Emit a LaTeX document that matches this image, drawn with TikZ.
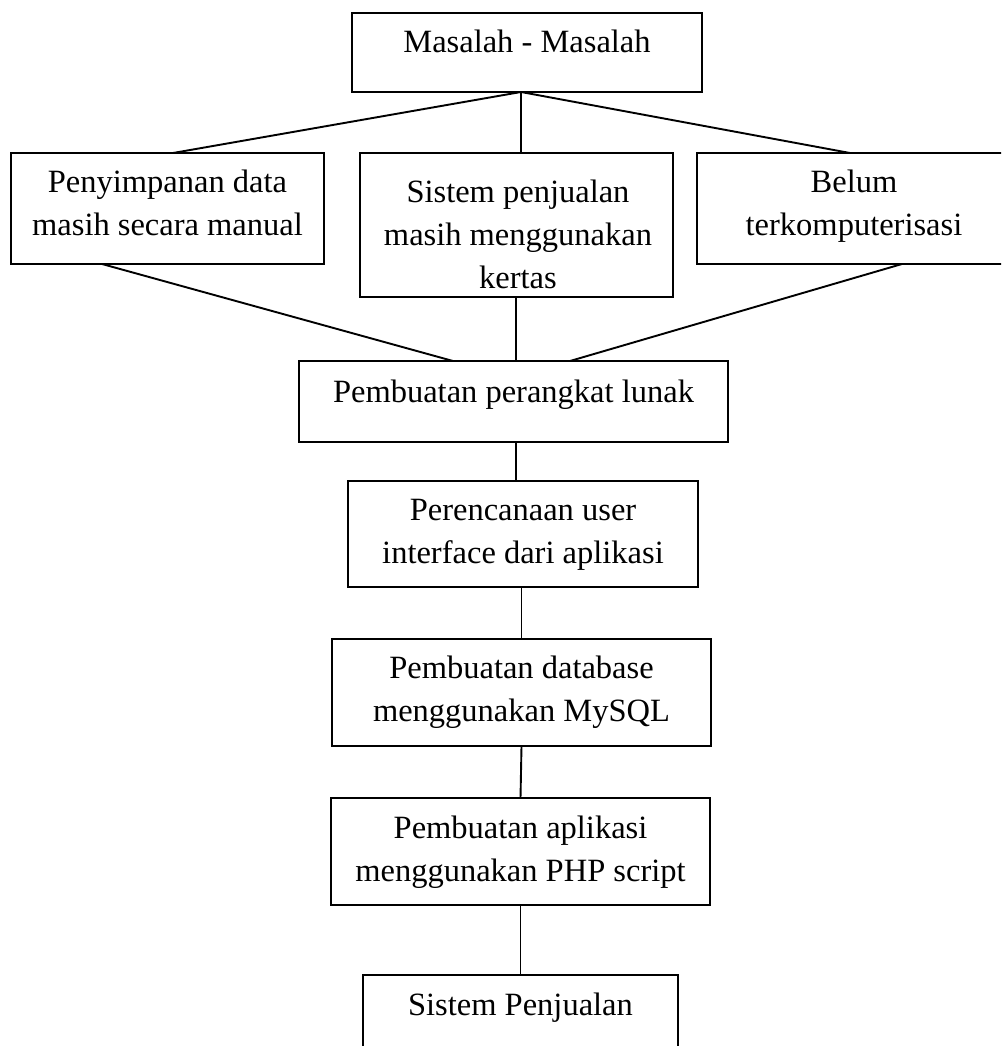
\documentclass[tikz,border=0pt]{standalone}
\usepackage{fontspec}
\setmainfont{Liberation Serif}
\usetikzlibrary{positioning}
\newcommand{\fs}{\rule{0pt}{30pt}}
\tikzset{
  boxx/.style={draw=black, line width=2pt, rectangle, inner sep=0pt, outer sep=0pt, anchor=north west},
  txt/.style={anchor=north, inner sep=0pt, align=center, font=\fontsize{32.5}{43}\selectfont},
  conn/.style={draw=black, line width=1.9pt}
}
\begin{document}
\begin{tikzpicture}[x=1pt, y=-1pt]
\useasboundingbox (0,0) rectangle (1001,1046);
\clip (0,0) rectangle (1001,1046);
% boxes
\node[boxx, minimum width=350pt, minimum height=79pt] (b1) at (352,13) {};
\node[boxx, minimum width=313pt, minimum height=111pt] (b2) at (11,153) {};
\node[boxx, minimum width=313pt, minimum height=144pt] (b3) at (360,153) {};
\node[boxx, minimum width=314pt, minimum height=111pt] (b4) at (697,153) {};
\node[boxx, minimum width=429pt, minimum height=81pt] (b5) at (299,361) {};
\node[boxx, minimum width=350pt, minimum height=106pt] (b6) at (348,481) {};
\node[boxx, minimum width=379pt, minimum height=107pt] (b7) at (332,639) {};
\node[boxx, minimum width=379pt, minimum height=107pt] (b8) at (331,798) {};
\node[boxx, minimum width=315pt, minimum height=100pt] (b9) at (363,975) {};
% texts
\node[txt] (t1) at (527,22) {\fs Masalah - Masalah};
\node[txt] (t2) at (167.5,162) {\fs Penyimpanan data\\masih secara manual};
\node[txt] (t3) at (518,172) {\fs Sistem penjualan\\masih menggunakan\\kertas};
\node[txt] (t4) at (854,162) {\fs Belum\\terkomputerisasi};
\node[txt] (t5) at (513.5,372) {\fs Pembuatan perangkat lunak};
\node[txt] (t6) at (523,490) {\fs Perencanaan user\\interface dari aplikasi};
\node[txt] (t7) at (521.5,648) {\fs Pembuatan database\\menggunakan MySQL};
\node[txt] (t8) at (520.5,808) {\fs Pembuatan aplikasi\\menggunakan PHP script};
\node[txt] (t9) at (520.5,985) {\fs Sistem Penjualan};
% connectors
\coordinate (m1) at ([xshift=-6pt]b1.south);
\draw[conn] (m1) -- ([xshift=5.5pt]b2.north);
\draw[conn] (m1) -- ([xshift=4.5pt]b3.north);
\draw[conn] (m1) -- ([xshift=-4pt]b4.north);
\draw[conn] ([xshift=-65.5pt]b2.south) -- ([xshift=-60.5pt]b5.north);
\draw[conn] ([xshift=-0.5pt]b3.south) -- ([xshift=2.5pt]b5.north);
\draw[conn] ([xshift=48pt]b4.south) -- ([xshift=56.5pt]b5.north);
\draw[conn] ([xshift=2.5pt]b5.south) -- ([xshift=-7pt]b6.north);
\draw[conn] ([xshift=-1.5pt]b6.south) -- (b7.north);
\draw[conn] (b7.south) -- (b8.north);
\draw[conn] (b8.south) -- (b9.north);
\end{tikzpicture}
\end{document}
